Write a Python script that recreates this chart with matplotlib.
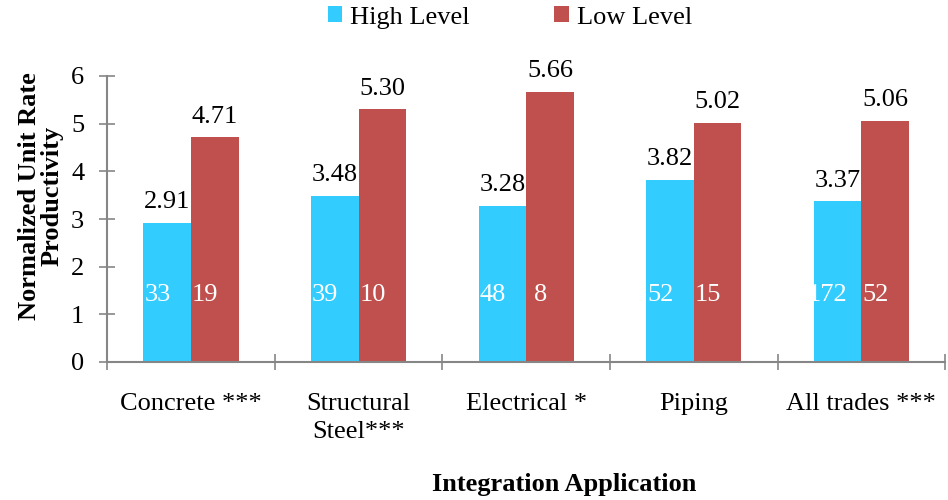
import matplotlib
matplotlib.use("Agg")
import matplotlib.pyplot as plt
import numpy as np

categories = ["Concrete ***", "Structural\nSteel***", "Electrical *", "Piping", "All trades ***"]
high_level = [2.91, 3.48, 3.28, 3.82, 3.37]
low_level = [4.71, 5.30, 5.66, 5.02, 5.06]
high_n = [33, 39, 48, 52, 172]
low_n = [19, 10, 8, 15, 52]

cyan = "#33CCFF"
red = "#C0504D"
axis_gray = "#868686"
fs = 19

plt.rcParams["font.family"] = ["Liberation Serif", "DejaVu Serif"]

fig = plt.figure(figsize=(9.48, 5.0), dpi=100)
ax = fig.add_axes([0.113, 0.276, 0.884, 0.572])

x = np.arange(len(categories))
w = 0.284
b1 = ax.bar(x - w / 2, high_level, w, color=cyan, label="High Level")
b2 = ax.bar(x + w / 2, low_level, w, color=red, label="Low Level")

# value labels above the bars
for xi, v in zip(x, high_level):
    ax.annotate(f"{v:.2f}", (xi - w / 2, v), xytext=(0, 15), textcoords="offset points",
                ha="center", va="center", fontsize=fs)
for xi, v in zip(x, low_level):
    ax.annotate(f"{v:.2f}", (xi + w / 2, v), xytext=(0, 15), textcoords="offset points",
                ha="center", va="center", fontsize=fs)

# sample counts inside the bars
for xi, n in zip(x, high_n):
    ax.annotate(str(n), (xi - w / 2, 1.4), xytext=(-7, 0), textcoords="offset points",
                ha="center", va="center", fontsize=fs, color="white")
for xi, n in zip(x, low_n):
    ax.annotate(str(n), (xi + w / 2, 1.4), xytext=(-7, 0), textcoords="offset points",
                ha="center", va="center", fontsize=fs, color="white")

ax.set_xlim(-0.5, len(categories) - 0.5)
ax.set_ylim(0, 6)
ax.set_yticks(range(0, 7))
ax.set_xticks(x)
ax.set_xticklabels(categories, fontsize=fs, linespacing=1.35, va="top")
ax.set_xticks(np.arange(-0.5, len(categories), 1.0), minor=True)
ax.tick_params(axis="x", which="major", length=0, pad=22)
ax.tick_params(axis="x", which="minor", direction="inout", length=11, color=axis_gray, width=1.2)
ax.tick_params(axis="y", direction="inout", length=11, color=axis_gray, width=1.2,
               labelsize=fs, pad=11)

for side in ["top", "right"]:
    ax.spines[side].set_visible(False)
for side in ["left", "bottom"]:
    ax.spines[side].set_color(axis_gray)
    ax.spines[side].set_linewidth(1.5)

ax.set_ylabel("Normalized Unit Rate\nProductivity", fontsize=fs, fontweight="bold",
              linespacing=0.95)
ax.yaxis.set_label_coords(-0.052, 0.58)
fig.text(0.595, 0.03, "Integration Application", ha="center", va="center",
         fontsize=fs, fontweight="bold")

fig.legend(handles=[b1, b2], loc="center", bbox_to_anchor=(0.538, 0.965), ncol=2,
           frameon=False, fontsize=fs, handlelength=0.55, handleheight=0.55,
           handletextpad=0.3, columnspacing=3.2)

fig.savefig("out.png", dpi=100)
